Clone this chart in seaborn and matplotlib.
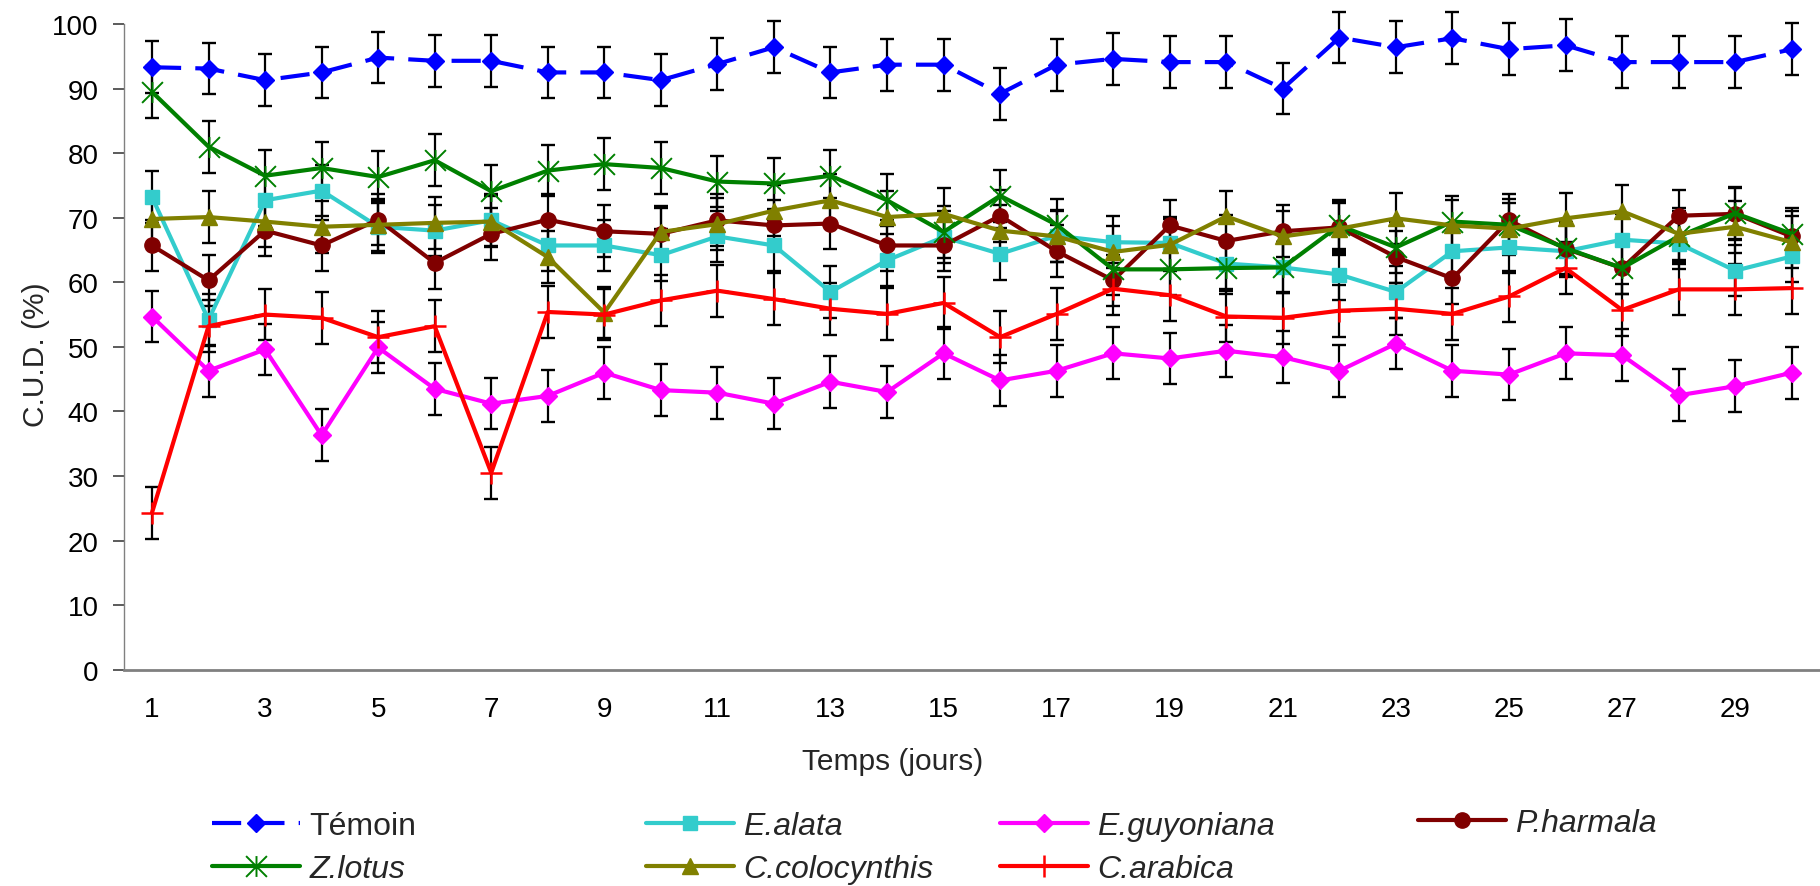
import matplotlib
matplotlib.use("Agg")
import matplotlib.pyplot as plt
from matplotlib.path import Path
from matplotlib.ticker import FixedLocator
import seaborn as sns

# ---------------- data ----------------
days = list(range(1, 31))
day_labels = [str(d) for d in range(1, 30, 2)]

temoin = [93.3, 93.1, 91.3, 92.5, 94.8, 94.3, 94.3, 92.5, 92.5, 91.3,
          93.8, 96.4, 92.5, 93.7, 93.7, 89.2, 93.7, 94.6, 94.1, 94.1,
          90.0, 97.9, 96.4, 97.8, 96.1, 96.7, 94.1, 94.1, 94.1, 96.1]
e_alata = [73.2, 54.2, 72.7, 74.2, 68.6, 68.0, 69.6, 65.7, 65.7, 64.2,
           67.1, 65.7, 58.5, 63.4, 67.0, 64.4, 67.2, 66.2, 66.1, 62.9,
           62.3, 61.2, 58.5, 64.8, 65.4, 64.8, 66.6, 66.0, 61.8, 64.0]
e_guyoniana = [54.7, 46.3, 49.6, 36.3, 49.9, 43.5, 41.2, 42.4, 46.0, 43.3,
               42.9, 41.2, 44.6, 43.0, 49.0, 44.8, 46.3, 49.0, 48.2, 49.4,
               48.4, 46.3, 50.5, 46.3, 45.7, 49.0, 48.7, 42.5, 43.9, 46.0]
p_harmala = [65.7, 60.3, 68.0, 65.7, 69.7, 63.0, 67.5, 69.7, 67.9, 67.5,
             69.6, 68.8, 69.1, 65.7, 65.7, 70.3, 64.8, 60.3, 68.8, 66.4,
             67.9, 68.5, 63.9, 60.6, 69.6, 65.2, 62.2, 70.3, 70.6, 67.1]
z_lotus = [89.5, 81.0, 76.5, 77.7, 76.3, 78.9, 74.1, 77.3, 78.3, 77.7,
           75.6, 75.3, 76.5, 72.7, 67.8, 73.4, 68.9, 62.0, 62.0, 62.2,
           62.3, 68.8, 65.4, 69.4, 68.9, 65.3, 62.2, 67.1, 70.7, 67.5]
c_colocynthis = [69.8, 70.1, 69.4, 68.6, 68.9, 69.2, 69.4, 63.9, 55.3, 67.8,
                 69.0, 71.1, 72.7, 70.1, 70.6, 68.0, 67.1, 64.7, 65.8, 70.2,
                 67.1, 68.3, 69.9, 68.8, 68.3, 69.9, 71.0, 67.5, 68.6, 66.2]
c_arabica = [24.3, 53.2, 55.0, 54.5, 51.5, 53.2, 30.5, 55.4, 55.0, 57.2,
             58.7, 57.4, 55.9, 55.1, 56.8, 51.5, 55.1, 59.0, 58.0, 54.7,
             54.5, 55.6, 55.9, 55.1, 57.8, 62.2, 55.7, 58.9, 58.9, 59.1]
error_margin = 4.0

series_names = ["Témoin", "E.alata", "E.guyoniana", "P.harmala",
                "Z.lotus", "C.colocynthis", "C.arabica"]

# ---------------- style ----------------
sns.set_style("white")
plt.rcParams["font.family"] = ["Liberation Sans", "DejaVu Sans"]

asterisk = Path([(0, -1), (0, 1), (-1, -1), (1, 1), (-1, 1), (1, -1)],
                [Path.MOVETO, Path.LINETO] * 3)

styles = {
    "Témoin":        dict(vals=temoin, color="#0000FF", marker="D", ms=9, mew=1.0, ls=(0, (7.0, 3.4)), italic=False),
    "E.alata":       dict(vals=e_alata, color="#33CCCC", marker="s", ms=10.5, mew=1.0, ls="-", italic=True),
    "E.guyoniana":   dict(vals=e_guyoniana, color="#FF00FF", marker="D", ms=9, mew=1.0, ls="-", italic=True),
    "P.harmala":     dict(vals=p_harmala, color="#800000", marker="o", ms=11, mew=1.0, ls="-", italic=True),
    "Z.lotus":       dict(vals=z_lotus, color="#008000", marker=asterisk, ms=15, mew=1.4, ls="-", italic=True),
    "C.colocynthis": dict(vals=c_colocynthis, color="#808000", marker="^", ms=12, mew=1.0, ls="-", italic=True),
    "C.arabica":     dict(vals=c_arabica, color="#FF0000", marker="+", ms=16, mew=1.8, ls="-", italic=True),
}

W, H = 1820, 887
fig = plt.figure(figsize=(W / 100, H / 100), dpi=100)
x0, x1, ytop, ybot = 123.7, 1820.0, 25.0, 670.7
ax = fig.add_axes([x0 / W, 1 - ybot / H, (x1 - x0) / W, (ybot - ytop) / H])

handles = {}
for name in series_names:
    st = styles[name]
    ax.errorbar(days, st["vals"], yerr=error_margin, fmt="none", ecolor="black",
                elinewidth=1.6, capsize=4.8, capthick=1.7, clip_on=False, zorder=2)
    sns.lineplot(x=days, y=st["vals"], ax=ax, color=st["color"], marker=st["marker"],
                 markersize=st["ms"], markeredgecolor=st["color"], markerfacecolor=st["color"],
                 markeredgewidth=st["mew"], linewidth=3.0, linestyle=st["ls"],
                 legend=False, errorbar=None, zorder=3, clip_on=False)
    handles[name] = ax.lines[-1]

# ---------------- axes ----------------
ax.set_xlim(0.5, 30.5)
ax.set_ylim(0, 100)
ax.set_yticks(range(0, 101, 10))
ax.set_xticks(list(range(1, 30, 2)))
ax.set_xticklabels(day_labels)
ax.xaxis.set_minor_locator(FixedLocator([d + 0.5 for d in range(0, 31)]))
ax.tick_params(axis="x", which="major", length=0, pad=19, labelsize=20, labelcolor="black")
ax.tick_params(axis="x", which="minor", length=8, width=1.2, color="#404040", direction="out")
ax.tick_params(axis="y", which="major", length=8, width=1.2, color="#404040", direction="out",
               pad=10, labelsize=20, labelcolor="black", left=True)
for s in ["top", "right"]:
    ax.spines[s].set_visible(False)
ax.spines["left"].set_color("#808080")
ax.spines["left"].set_linewidth(1.0)
ax.spines["bottom"].set_color("#808080")
ax.spines["bottom"].set_linewidth(2.0)
ax.grid(False)

ax.set_ylabel("C.U.D. (%)", fontsize=21.5)
ax.yaxis.set_label_coords((50 - x0) / (x1 - x0), 0.49)
fig.text(893 / W, 1 - 762 / H, "Temps (jours)", fontsize=21.5, ha="center", va="center")

# ---------------- legend (4 columns) ----------------
columns = [(212, ["Témoin", "Z.lotus"]),
           (646, ["E.alata", "C.colocynthis"]),
           (1000, ["E.guyoniana", "C.arabica"]),
           (1418, ["P.harmala"])]
for xpos, names in columns:
    yc = (824 + 873) / 2 if len(names) == 2 else 824
    leg = fig.legend([handles[n] for n in names], names, loc="center left",
                     bbox_to_anchor=(xpos / W, 1 - yc / H), frameon=False,
                     fontsize=23, handlelength=2.75, handletextpad=0.3,
                     labelspacing=0.42, borderpad=0, borderaxespad=0, numpoints=1)
    for t, n in zip(leg.get_texts(), names):
        if styles[n]["italic"]:
            t.set_fontstyle("italic")

fig.savefig("out.png", dpi=100)
